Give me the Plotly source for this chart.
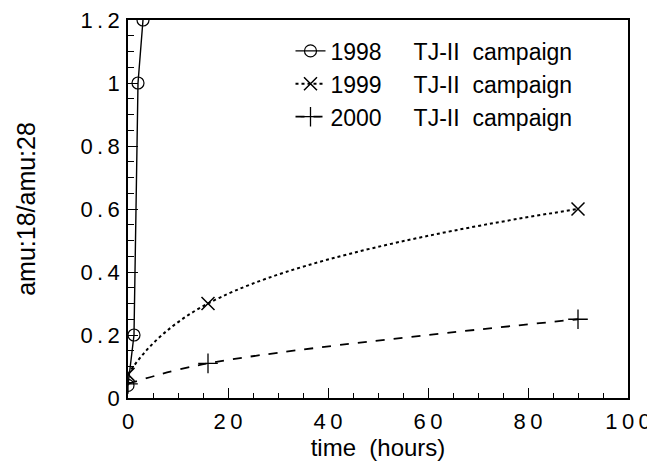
import plotly.graph_objects as go

# Data
t_1998 = [0, 1.2, 2, 3]
r_1998 = [0.04, 0.2, 1.0, 1.2]
t_1999 = [0, 16, 90]
r_1999 = [0.075, 0.3, 0.6]
t_2000 = [0, 16, 90]
r_2000 = [0.045, 0.11, 0.25]

GAP1 = "\u00a0" * 5
GAP2 = "\u00a0" * 2
names = ["1998" + GAP1 + "TJ-II" + GAP2 + "campaign",
         "1999" + GAP1 + "TJ-II" + GAP2 + "campaign",
         "2000" + GAP1 + "TJ-II" + GAP2 + "campaign"]

x_ticks = [0, 20, 40, 60, 80, 100]
y_ticks = [0, 0.2, 0.4, 0.6, 0.8, 1, 1.2]


def spaced(s):
    return "\u2009".join(list(s))


FONT = "Liberation Sans, Arial, Helvetica, sans-serif"

fig = go.Figure()
fig.add_trace(go.Scatter(
    x=t_1998, y=r_1998, name=names[0], mode="lines+markers",
    line=dict(color="black", width=1.4),
    marker=dict(symbol="circle-open", size=12, color="black", line=dict(width=1.2)),
))
fig.add_trace(go.Scatter(
    x=t_1999, y=r_1999, name=names[1], mode="lines+markers",
    line=dict(color="black", width=2, dash="dot", shape="spline", smoothing=1.3),
    marker=dict(symbol="x-thin-open", size=13, color="black", line=dict(width=1.5)),
))
fig.add_trace(go.Scatter(
    x=t_2000, y=r_2000, name=names[2], mode="lines+markers",
    line=dict(color="black", width=1.8, dash="dash", shape="spline", smoothing=1.0),
    marker=dict(symbol="cross-thin-open", size=14, color="black", line=dict(width=1.3)),
))

axis_common = dict(
    showgrid=False, zeroline=False, showline=True, linecolor="black", linewidth=1.5,
    mirror=True, ticks="inside", ticklen=10, tickwidth=1, tickcolor="black",
    tickfont=dict(family=FONT, size=22, color="black"), automargin=False,
    ticklabeloverflow="allow",
)

fig.update_xaxes(
    **axis_common, range=[0, 100], tickmode="array", tickvals=x_ticks,
    ticktext=[spaced(str(v)) for v in x_ticks],
    minor=dict(dtick=5, ticks="inside", ticklen=5, tickcolor="black", showgrid=False),
    ticklabelstandoff=3,
    title=dict(text="time\u00a0\u00a0(hours)", font=dict(family=FONT, size=24, color="black"), standoff=0),
)
fig.update_yaxes(
    **axis_common, range=[0, 1.2], tickmode="array", tickvals=y_ticks,
    ticktext=[spaced(("%g" % v)) for v in y_ticks],
    minor=dict(dtick=0.05, ticks="inside", ticklen=6, tickcolor="black", showgrid=False),
    ticklabelstandoff=2,
    title=dict(text="amu:18/amu:28", font=dict(family=FONT, size=25, color="black"), standoff=38),
)

# the page body adds an 8px offset, so the figure is sized to fit inside the window
fig.update_layout(
    width=647, height=458,
    margin=dict(l=120, r=27, t=12, b=68),
    paper_bgcolor="white", plot_bgcolor="white",
    showlegend=True,
    legend=dict(x=0.325, y=0.975, xanchor="left", yanchor="top",
                font=dict(family=FONT, size=23, color="black"),
                bgcolor="rgba(0,0,0,0)", itemwidth=30),
)

fig.write_html("out.html")
